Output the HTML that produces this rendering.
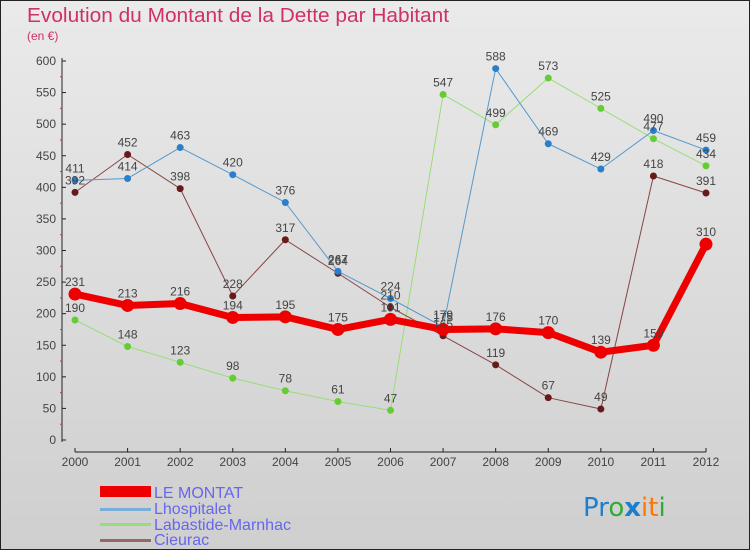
<!DOCTYPE html>
<html><head><meta charset="utf-8"><style>
body{margin:0;}
svg{display:block;font-family:"Liberation Sans",sans-serif;}
</style></head><body>
<svg id="c" width="750" height="550" xmlns="http://www.w3.org/2000/svg">
<defs><linearGradient id="bg" x1="0" y1="0" x2="0" y2="1"><stop offset="0" stop-color="#eaeaea"/><stop offset="1" stop-color="#cfcfcf"/></linearGradient></defs>
<rect x="0.5" y="0.5" width="749" height="549" fill="url(#bg)" stroke="#222"/>
<text x="27" y="22" font-size="20" textLength="422" lengthAdjust="spacingAndGlyphs" fill="#d0306a">Evolution du Montant de la Dette par Habitant</text>
<text x="27" y="40" font-size="12" fill="#d0306a">(en €)</text>
<g id="grid"></g><g id="axes"></g><g id="series"></g><g id="labels"></g>
<g>
<rect x="100" y="486" width="51" height="11" fill="#e00"/>
<text x="154" y="498" font-size="16" fill="#6666ee">LE MONTAT</text>
<rect x="100" y="508" width="51" height="3" fill="#7aaed8"/>
<text x="154" y="514" font-size="16" fill="#6666ee">Lhospitalet</text>
<rect x="100" y="523" width="51" height="3" fill="#99dd77"/>
<text x="154" y="530" font-size="16" fill="#6666ee">Labastide-Marnhac</text>
<rect x="100" y="539" width="51" height="3" fill="#996666"/>
<text x="154" y="545" font-size="16" fill="#6666ee">Cieurac</text>
</g>
<g font-size="26" font-family="'DejaVu Sans',sans-serif">
<text x="583" y="516"><tspan fill="#1a7fd0">Pr</tspan><tspan fill="#33aa33">o</tspan><tspan fill="#1a7fd0" font-weight="bold">x</tspan><tspan fill="#ff7700">it</tspan><tspan fill="#33aa33">i</tspan></text>
</g>
</svg>
<script>
const years=["2000","2001","2002","2003","2004","2005","2006","2007","2008","2009","2010","2011","2012"];
const yTicks=[0,50,100,150,200,250,300,350,400,450,500,550,600];
const montat=[231,213,216,194,195,175,191,175,176,170,139,150,310];
const lhospitalet=[411,414,463,420,376,267,224,179,588,469,429,490,459];
const labastide=[190,148,123,98,78,61,47,547,499,573,525,477,434];
const cieurac=[392,452,398,228,317,264,210,165,119,67,49,418,391];
const NS="http://www.w3.org/2000/svg";
const X0=75,X1=706,Y0=440,Y600=61;
function xs(i){return X0+(X1-X0)*i/(years.length-1);}
function ys(v){return Y0-(Y0-Y600)*v/600;}
function mk(p,t,a){const e=document.createElementNS(NS,t);for(const k in a)e.setAttribute(k,a[k]);p.appendChild(e);return e;}
const axes=document.getElementById('axes');
let l=mk(axes,'line',{x1:62,y1:58,x2:62,y2:442,stroke:'#222'});


l=mk(axes,'line',{x1:75,y1:452,x2:706,y2:452,stroke:'#222'});


yTicks.forEach(v=>{const y=ys(v);
 mk(axes,'line',{x1:62,y1:y,x2:66,y2:y,stroke:'#222'});
 if(v<600)mk(axes,'line',{x1:60,y1:ys(v+25),x2:62,y2:ys(v+25),stroke:'#d33'});
 const t=mk(axes,'text',{x:56,y:y+4,'font-size':12,'text-anchor':'end',fill:'#444'});t.textContent=v;
 
 
});
years.forEach((yr,i)=>{const x=xs(i);
 mk(axes,'line',{x1:x,y1:448,x2:x,y2:452,stroke:'#222'});
 const t=mk(axes,'text',{x:x,y:466,'font-size':12,'text-anchor':'middle',fill:'#444'});t.textContent=yr;
 
 
});
const S=document.getElementById('series'),L=document.getElementById('labels');
function series(data,name,color,dot,w,r){
 const g=mk(S,'g',{});
 
 
 mk(g,'polyline',{points:data.map((v,i)=>xs(i)+','+ys(v)).join(' '),fill:'none',stroke:color,'stroke-width':w,'stroke-linejoin':'round'});
 data.forEach((v,i)=>{
  const c=mk(g,'circle',{cx:xs(i),cy:ys(v),r:r,fill:dot});
  
  
  const t=mk(L,'text',{x:xs(i),y:ys(v)-8,'font-size':12,'text-anchor':'middle',fill:'#444'});t.textContent=v;
  
  
 });
}
series(labastide,'labastide-marnhac','#99dd77','#66cc33',1,3.5);
series(cieurac,'cieurac','#884444','#661a1a',1,3.5);
series(lhospitalet,'lhospitalet','#5599cc','#2a7fcc',1,3.5);
series(montat,'le-montat','#ee0000','#ee0000',7,6.5);
</script>
</body></html>
